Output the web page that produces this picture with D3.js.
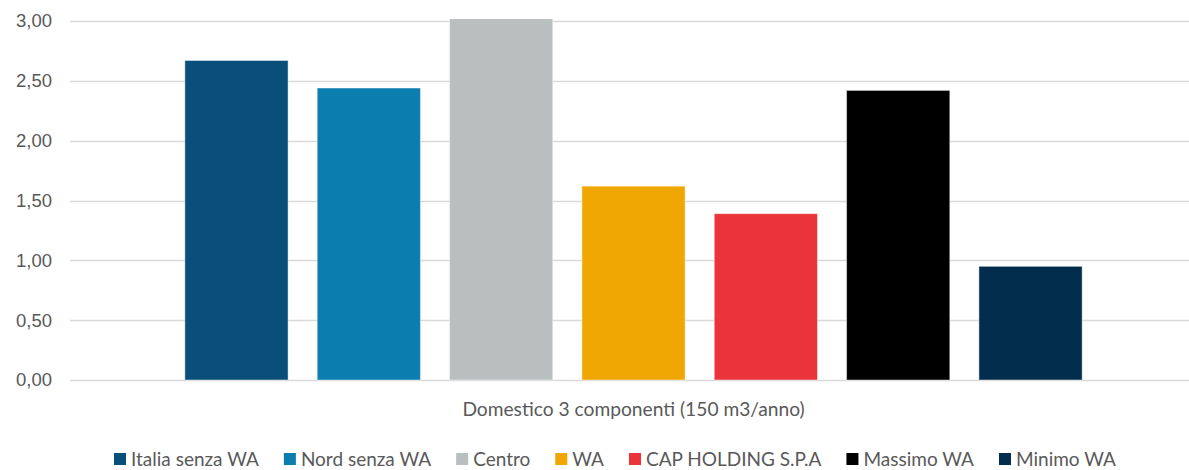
<!DOCTYPE html>
<html>
<head>
<meta charset="utf-8">
<script src="https://cdn.jsdelivr.net/npm/d3@7"></script>
<style>
  body { margin: 0; background: #fff; }
  svg { display: block; }
</style>
</head>
<body>
<svg id="chart"></svg>
<script>
const categories = ["Domestico 3 componenti (150 m3/anno)"];
const seriesNames = ["Italia senza WA", "Nord senza WA", "Centro", "WA", "CAP HOLDING S.P.A", "Massimo WA", "Minimo WA"];
const seriesValues = [2.67, 2.44, 3.02, 1.62, 1.39, 2.42, 0.95];
const seriesColors = ["#0a4f7b", "#0b7daf", "#b9bebe", "#f0a704", "#ea3439", "#000000", "#032d4d"];
const yTicks = [0, 0.5, 1, 1.5, 2, 2.5, 3];

const width = 1189;
const height = 470;
const margin = { top: 21, right: -8, bottom: 90, left: 70 };

const svg = d3.select("#chart")
    .attr("width", width)
    .attr("height", height);

const y = d3.scaleLinear()
    .domain([0, 3])
    .range([height - margin.bottom, margin.top]);

const x0 = d3.scaleBand()
    .domain(categories)
    .range([margin.left, width - margin.right])
    .paddingInner(0)
    .paddingOuter(0.128);

const x1 = d3.scaleBand()
    .domain(seriesNames)
    .range([0, x0.bandwidth()])
    .paddingInner(0.22)
    .paddingOuter(0);

const fmt = v => d3.format(".2f")(v).replace(".", ",");

// gridlines
svg.append("g")
    .selectAll("line")
    .data(yTicks)
    .join("line")
    .attr("x1", margin.left)
    .attr("x2", width)
    .attr("y1", d => Math.round(y(d)) + 0.5)
    .attr("y2", d => Math.round(y(d)) + 0.5)
    .attr("stroke", "#d9d9d9")
    .attr("stroke-width", 1.5);

// y axis labels
const yAxis = svg.append("g")
    .attr("transform", `translate(${margin.left - 18}, 0)`)
    .call(d3.axisLeft(y).tickValues(yTicks).tickFormat(fmt).tickSize(0).tickPadding(0));
yAxis.select(".domain").remove();
yAxis.selectAll("text")
    .attr("font-family", "'Liberation Sans', Arial, sans-serif")
    .attr("font-size", "18.5px")
    .attr("fill", "#595959");

// bars (clipped to the plot top, Centro runs slightly past 3,00)
svg.append("clipPath")
    .attr("id", "plot-clip")
    .append("rect")
    .attr("x", 0)
    .attr("y", margin.top - 2)
    .attr("width", width)
    .attr("height", height);

const barData = seriesNames.map((name, i) => ({ category: categories[0], name, value: seriesValues[i], color: seriesColors[i] }));

svg.append("g")
    .attr("clip-path", "url(#plot-clip)")
    .selectAll("rect")
    .data(barData)
    .join("rect")
    .attr("x", d => x0(d.category) + x1(d.name))
    .attr("y", d => y(d.value))
    .attr("width", x1.bandwidth())
    .attr("height", d => y(0) - y(d.value))
    .attr("fill", d => d.color)
    .attr("stroke", "rgba(255,255,255,0.45)")
    .attr("stroke-width", 1);

// category label
svg.append("text")
    .attr("x", x0(categories[0]) + x0.bandwidth() / 2)
    .attr("y", 416)
    .attr("text-anchor", "middle")
    .attr("font-family", "Lato, 'Open Sans', sans-serif")
    .attr("font-size", "19.2px")
    .attr("fill", "#595959")
    .text(categories[0]);

// legend
const legend = svg.append("g");
const items = legend.selectAll("g")
    .data(barData)
    .join("g");
items.append("rect")
    .attr("width", 12)
    .attr("height", 12)
    .attr("y", -6)
    .attr("fill", d => d.color);
items.append("text")
    .attr("x", 17)
    .attr("dy", "0.35em")
    .attr("font-family", "Lato, 'Open Sans', sans-serif")
    .attr("font-size", "19px")
    .attr("fill", "#595959")
    .text(d => d.name);

const gap = 25;
let cursor = 0;
items.each(function () {
    const w = 17 + d3.select(this).select("text").node().getComputedTextLength();
    d3.select(this).attr("transform", `translate(${cursor}, 0)`);
    cursor += w + gap;
});
legend.attr("transform", "translate(114, 459)");
</script>
</body>
</html>
